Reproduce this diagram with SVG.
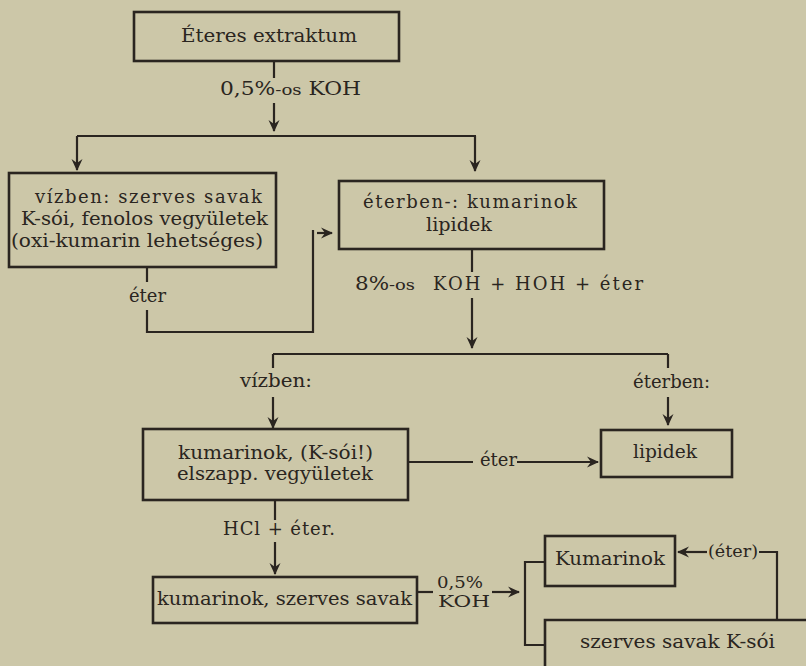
<svg xmlns="http://www.w3.org/2000/svg" width="806" height="666" viewBox="0 0 806 666">
<style>
.box{fill:none;stroke:#2a2520;stroke-width:2.6;}
.ln{fill:none;stroke:#2a2520;stroke-width:2.2;}
.ar{fill:none;stroke:#2a2520;stroke-width:2.2;marker-end:url(#ah);}
</style>
<defs>
<marker id="ah" markerUnits="userSpaceOnUse" markerWidth="14" markerHeight="14" refX="11" refY="6" orient="auto">
<path d="M0,0.5 L12,6 L0,11.5 L4,6 z" fill="#2a2520"/>
</marker>
</defs>
<rect width="806" height="666" fill="#ccc7a8"/>
<g font-family="'DejaVu Serif', 'Liberation Serif', serif" font-size="18" fill="#2a2520">
<g id="connectors">
<path class="ln" d="M274,61 V78"/>
<path class="ar" d="M274,103 V131"/>
<path class="ln" d="M77,136 H476"/>
<path class="ar" d="M77,136 V170"/>
<path class="ar" d="M475,136 V171"/>
<path class="ln" d="M147,267 V282"/>
<path class="ln" d="M147,310 V332 H313 V230"/>
<path class="ar" d="M317,233 H332"/>
<path class="ln" d="M472,249 V272"/>
<path class="ar" d="M472,298 V348"/>
<path class="ln" d="M273,354 H668"/>
<path class="ln" d="M273,354 V368"/>
<path class="ar" d="M273,397 V428"/>
<path class="ln" d="M668,354 V368"/>
<path class="ar" d="M668,397 V425"/>
<path class="ln" d="M408,462 H473"/>
<path class="ar" d="M517,462 H598"/>
<path class="ln" d="M275,500 V520"/>
<path class="ar" d="M275,542 V574"/>
<path class="ln" d="M417,592 H433"/>
<path class="ar" d="M492,592 H519"/>
<path class="ln" d="M545,562 H525 V645 H545"/>
<path class="ln" d="M759,552 H777 V620"/>
<path class="ar" d="M707,552 H678"/>
<text x="220" y="95" textLength="141" lengthAdjust="spacingAndGlyphs">0,5%<tspan font-size="15">-os</tspan> KOH</text>
<text x="129" y="302" textLength="37" lengthAdjust="spacingAndGlyphs">éter</text>
<text x="355" y="290" textLength="60" lengthAdjust="spacingAndGlyphs">8%<tspan font-size="15">-os</tspan></text>
<text x="433" y="290" textLength="210" lengthAdjust="spacing">KOH + HOH + éter</text>
<text x="240" y="387" textLength="72" lengthAdjust="spacingAndGlyphs">vízben:</text>
<text x="633" y="388" textLength="77" lengthAdjust="spacingAndGlyphs">éterben:</text>
<text x="480" y="466" textLength="37" lengthAdjust="spacingAndGlyphs">éter</text>
<text x="223" y="535" textLength="112" lengthAdjust="spacing">HCl + éter.</text>
<text x="437" y="588" font-size="16" textLength="46" lengthAdjust="spacingAndGlyphs">0,5%</text>
<text x="438" y="607" font-size="16" textLength="52" lengthAdjust="spacingAndGlyphs">KOH</text>
<text x="708" y="557" font-size="17" textLength="50" lengthAdjust="spacingAndGlyphs">(éter)</text>
</g>
<g id="n1">
<rect class="box" x="134" y="12" width="265" height="49"/>
<text x="181" y="42" textLength="176" lengthAdjust="spacingAndGlyphs">Éteres extraktum</text>
</g>
<g id="n2">
<rect class="box" x="9" y="173" width="267" height="94"/>
<text x="35" y="203" textLength="227" lengthAdjust="spacing">vízben: szerves savak</text>
<text x="21" y="225" textLength="247" lengthAdjust="spacingAndGlyphs">K-sói, fenolos vegyületek</text>
<text x="11" y="247" textLength="252" lengthAdjust="spacingAndGlyphs">(oxi-kumarin lehetséges)</text>
</g>
<g id="n3">
<rect class="box" x="339" y="181" width="265" height="68"/>
<text x="363" y="208" textLength="214" lengthAdjust="spacing">éterben-:  kumarinok</text>
<text x="426" y="231" textLength="66" lengthAdjust="spacingAndGlyphs">lipidek</text>
</g>
<g id="n4">
<rect class="box" x="143" y="429" width="265" height="71"/>
<text x="178" y="459" textLength="195" lengthAdjust="spacingAndGlyphs">kumarinok, (K-sói!)</text>
<text x="177" y="480" textLength="196" lengthAdjust="spacingAndGlyphs">elszapp. vegyületek</text>
</g>
<g id="n5">
<rect class="box" x="601" y="430" width="131" height="47"/>
<text x="633" y="458" textLength="64" lengthAdjust="spacingAndGlyphs">lipidek</text>
</g>
<g id="n6">
<rect class="box" x="153" y="577" width="264" height="46"/>
<text x="157" y="605" textLength="255" lengthAdjust="spacingAndGlyphs">kumarinok, szerves savak</text>
</g>
<g id="n7">
<rect class="box" x="545" y="536" width="130" height="50"/>
<text x="555" y="565" textLength="110" lengthAdjust="spacingAndGlyphs">Kumarinok</text>
</g>
<g id="n8">
<path class="box" d="M806,620 H545 V666"/>
<text x="580" y="648" textLength="195" lengthAdjust="spacingAndGlyphs">szerves savak K-sói</text>
</g>
</g>
</svg>
